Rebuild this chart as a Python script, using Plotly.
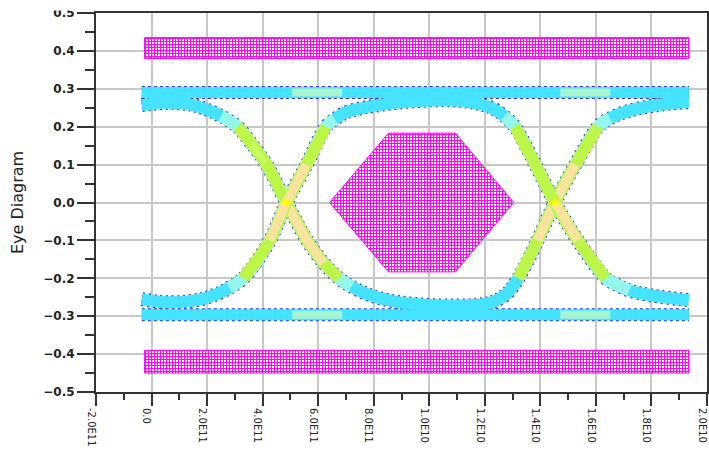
import numpy as np
import plotly.graph_objects as go

# ---------------------------------------------------------------
# Eye diagram data (time in picoseconds, amplitude in volts)
# ---------------------------------------------------------------

# bit pattern high -> low -> high
p1_t = [-3.5, 0, 5, 10, 15, 20, 25, 31, 36, 41, 48.6, 56, 62, 67.5, 72, 77, 82,
        88, 95, 102, 110, 117, 123, 128, 132, 139, 145.2, 152.6, 160.8, 165,
        171, 181, 193.5]
p1_v = [0.257, 0.26, 0.263, 0.262, 0.257, 0.245, 0.228, 0.2, 0.155, 0.105, 0.0,
        -0.1, -0.16, -0.2, -0.222, -0.24, -0.252, -0.262, -0.268, -0.271,
        -0.272, -0.27, -0.262, -0.24, -0.2, -0.1, 0.0, 0.1, 0.2, 0.222, 0.24,
        0.256, 0.265]

# bit pattern low -> high -> low
p2_t = [-3.5, 3, 10, 18, 24, 28, 33, 42.6, 48.6, 55.8, 62.8, 66, 70, 75, 80,
        88, 96, 104, 112, 118, 123, 127, 130.8, 138.2, 145.2, 153.5, 163.6,
        167, 172, 180, 193.5]
p2_v = [-0.255, -0.262, -0.263, -0.255, -0.24, -0.225, -0.2, -0.1, 0.0, 0.1,
        0.2, 0.22, 0.238, 0.248, 0.255, 0.263, 0.268, 0.27, 0.268, 0.26, 0.248,
        0.228, 0.2, 0.1, 0.0, -0.1, -0.2, -0.215, -0.232, -0.245, -0.258]

# steady high / steady low levels
rail_t = [-3.5, 193.5]
top_rail_v = [0.29, 0.29]
bot_rail_v = [-0.296, -0.296]

# compliance mask regions
mask_top_t = [-2.5, 193.5, 193.5, -2.5]
mask_top_v = [0.38, 0.38, 0.435, 0.435]
mask_bot_t = [-2.5, 193.5, 193.5, -2.5]
mask_bot_v = [-0.45, -0.45, -0.39, -0.39]
mask_eye_t = [64.1, 85.3, 109.4, 130.4, 109.4, 85.3]
mask_eye_v = [0.0, 0.183, 0.183, 0.0, -0.183, -0.183]

# x axis tick labels
x_tick_ps = [-20, 0, 20, 40, 60, 80, 100, 120, 140, 160, 180, 200]
x_tick_text = ['-2.0E11', '0.0', '2.0E11', '4.0E11', '6.0E11', '8.0E11',
               '1.0E10', '1.2E10', '1.4E10', '1.6E10', '1.8E10', '2.0E10']


def sec(arr):
    return np.asarray(arr, dtype=float) / 1e12


# ---------------------------------------------------------------
# styling
# ---------------------------------------------------------------
EDGE = '#2234ea'
CYAN = '#45e3ff'
AQUA = '#95f7ea'
YGREEN = '#bdf548'
GREEN_CORE = '#c9fa62'
PEACH = '#f9e39f'
LIGHT_PATCH = '#a6f5cf'
MAGENTA = '#ff00ff'
TXT = '#222222'
AX = '#333333'

paths = [(p1_t, p1_v), (p2_t, p2_v)]
rails = [(rail_t, top_rail_v), (rail_t, bot_rail_v)]

fig = go.Figure()

# mask polygons
for mt, mv in [(mask_top_t, mask_top_v), (mask_bot_t, mask_bot_v),
               (mask_eye_t, mask_eye_v)]:
    fig.add_trace(go.Scatter(
        x=sec(list(mt) + [mt[0]]), y=list(mv) + [mv[0]],
        mode='lines', fill='toself',
        fillcolor='rgba(0,0,0,0)',
        fillpattern=dict(shape='+', fgcolor=MAGENTA, bgcolor='rgba(0,0,0,0)',
                         size=3, solidity=0.55, fillmode='replace'),
        line=dict(color=MAGENTA, width=1),
        hoverinfo='skip'))


def line(x, y, color, width, dash='solid', shape='spline'):
    fig.add_trace(go.Scatter(
        x=x, y=y, mode='lines', connectgaps=False,
        line=dict(color=color, width=width, dash=dash, shape=shape,
                  smoothing=1.0),
        hoverinfo='skip'))


# dotted dark-blue rim around every trajectory
for t, v in rails:
    line(sec(t), v, EDGE, 13, dash='3px,3px', shape='linear')
for t, v in paths:
    line(sec(t), v, EDGE, 14, dash='2px,4px')

# body of every trajectory
for t, v in rails:
    line(sec(t), v, CYAN, 11, shape='linear')
for t, v in paths:
    line(sec(t), v, CYAN, 12)

# crossing times (where the transitions pass through zero)
crossings = sorted({tt for t, v in paths for tt, vv in zip(t, v) if vv == 0.0})

# lighter patches on the steady levels right after each crossing
for t, v in rails:
    for tc in crossings:
        line(sec([tc + 2, tc + 20]), [v[0], v[0]], LIGHT_PATCH, 8,
             shape='linear')

# transition region colouring
for t, v in paths:
    t = np.asarray(t, float)
    v = np.asarray(v, float)
    slope = np.gradient(v, t)
    near = np.where(np.abs(v) <= 0.235, v, np.nan)
    mid = np.where(np.abs(v) <= 0.205, v, np.nan)
    line(sec(t), near, AQUA, 12)
    line(sec(t), mid, YGREEN, 12)
    green = (slope < 0) & (v > 0)
    core_p = np.where((np.abs(v) <= 0.19) & ~green, v, np.nan)
    core_g = np.where((np.abs(v) <= 0.19) & green, v, np.nan)
    line(sec(t), core_p, PEACH, 9)
    line(sec(t), core_g, GREEN_CORE, 6)

# bright spot at each crossing
fig.add_trace(go.Scatter(
    x=sec(crossings), y=[0.0] * len(crossings), mode='markers',
    marker=dict(symbol='diamond-wide', size=10, color='#ffff00',
                line=dict(width=0)),
    hoverinfo='skip'))

PLOT_H = 450 - 13 - 58
fig.update_layout(
    width=709, height=450,
    margin=dict(l=96, r=2, t=13, b=58),
    paper_bgcolor='white', plot_bgcolor='white',
    showlegend=False,
    font=dict(family='DejaVu Sans', color=TXT),
    # strip along the top edge of the page (trims the uppermost label)
    shapes=[dict(type='rect', xref='paper', yref='paper', layer='above',
                 x0=-96 / 611, x1=-8 / 611,
                 y0=1 + 2.5 / PLOT_H, y1=1 + 13 / PLOT_H,
                 fillcolor='white', line=dict(width=0))],
)
fig.update_xaxes(
    range=[sec(-20), sec(200)], automargin=False,
    tickmode='array', tickvals=sec(x_tick_ps), ticktext=x_tick_text,
    tickangle=90, ticks='outside', ticklen=12, tickwidth=2, tickcolor=AX,
    tickfont=dict(size=10, color=TXT),
    ticklabeloverflow='allow', ticklabelshift=-5,
    showline=True, linecolor=AX, linewidth=2, mirror=True,
    showgrid=True, gridcolor='#c8c8c8', gridwidth=2, zeroline=False,
    minor=dict(tickvals=sec([(a + b) / 2 for a, b in zip(x_tick_ps[:-1], x_tick_ps[1:])]),
               ticks='outside', ticklen=6, tickwidth=1.5, tickcolor=AX,
               showgrid=False),
)
fig.update_yaxes(
    range=[-0.5, 0.5], automargin=False, tick0=0, dtick=0.1, tickformat='.1f',
    ticks='outside', ticklen=17, tickwidth=2, tickcolor=AX,
    tickfont=dict(size=12, color=TXT, weight='bold'),
    showline=True, linecolor=AX, linewidth=2, mirror=True,
    showgrid=True, gridcolor='#c8c8c8', gridwidth=2, zeroline=False,
    minor=dict(dtick=0.05, ticks='outside', ticklen=9, tickwidth=1.5,
               tickcolor=AX, showgrid=False),
    title=dict(text='Eye Diagram', font=dict(size=16, color=TXT),
               standoff=16),
)

fig.write_html('out.html')
